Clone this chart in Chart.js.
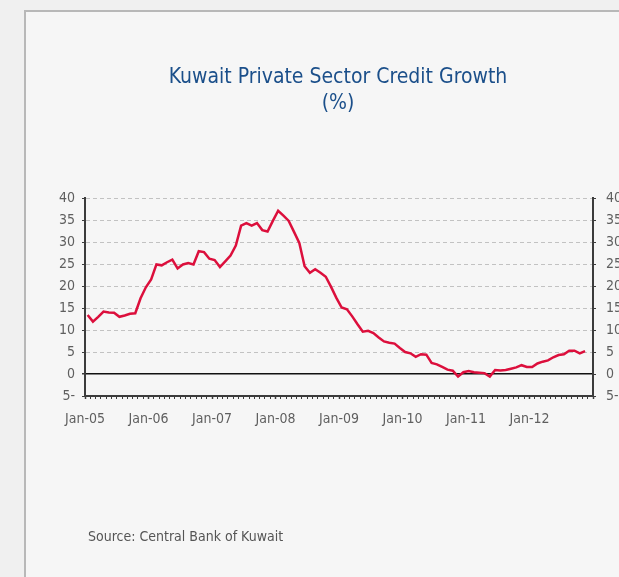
<!DOCTYPE html>
<html lang="en">
<head>
    <meta charset="UTF-8">
    <title>Kuwait Private Sector Credit Growth</title>
    <script src="https://cdn.jsdelivr.net/npm/chart.js"></script>
    <style>
        html, body {
            margin: 0;
            padding: 0;
            width: 619px;
            height: 577px;
            overflow: hidden;
            background: #f0f0f0;
        }
        .panel {
            position: absolute;
            left: 24px;
            top: 10px;
            width: 700px;
            height: 700px;
            background: #f6f6f6;
            border-left: 2px solid #b8b8b8;
            border-top: 2px solid #b8b8b8;
        }
        #chart {
            position: absolute;
            left: 0;
            top: 0;
        }
        .source {
            position: absolute;
            left: 88px;
            top: 528px;
            font-family: 'Liberation Sans Narrow', 'DejaVu Sans Condensed', 'Open Sans', sans-serif;
            font-size: 14px;
            color: #555555;
        }
    </style>
</head>
<body>
    <div class="panel"></div>
    <canvas id="chart" width="676" height="577"></canvas>
    <div class="source">Source: Central Bank of Kuwait</div>

    <script>
        // Monthly private sector credit growth, Jan-05 .. Nov-12 (%)
        const creditGrowth = [
            13.4, 11.9, 13.0, 14.2, 14.0, 13.9, 13.0, 13.3, 13.7, 13.8, 17.2, 19.7,
            21.5, 24.9, 24.7, 25.4, 26.0, 24.0, 24.9, 25.2, 24.9, 27.9, 27.7, 26.2,
            25.9, 24.3, 25.6, 26.9, 29.2, 33.7, 34.3, 33.7, 34.3, 32.7, 32.4, 34.8,
            37.1, 36.0, 34.8, 32.3, 29.8, 24.5, 23.0, 23.8, 23.0, 22.1, 19.8, 17.3,
            15.1, 14.7, 13.1, 11.3, 9.6, 9.8, 9.3, 8.3, 7.4, 7.1, 6.9, 5.9,
            5.0, 4.7, 3.9, 4.5, 4.4, 2.5, 2.2, 1.6, 1.0, 0.75, -0.6, 0.4,
            0.7, 0.4, 0.3, 0.2, -0.6, 0.9, 0.8, 0.9, 1.2, 1.5, 2.0, 1.6,
            1.6, 2.4, 2.8, 3.1, 3.8, 4.3, 4.5, 5.3, 5.3, 4.7, 5.2
        ];
        const yearLabels = ['Jan-05', 'Jan-06', 'Jan-07', 'Jan-08', 'Jan-09', 'Jan-10', 'Jan-11', 'Jan-12'];
        const monthsShown = 96;

        const labelFont = "'Liberation Sans Narrow', 'DejaVu Sans Condensed', 'Open Sans', sans-serif";
        const tickColor = '#5f5f5f';
        const axisColor = '#3c3c3c';

        // each month sits in the middle of its slot
        const points = creditGrowth.map((v, i) => ({ x: i + 0.5, y: v }));

        new Chart(document.getElementById('chart').getContext('2d'), {
            type: 'line',
            data: {
                datasets: [{
                    label: 'Credit growth',
                    data: points,
                    borderColor: '#dc0f3c',
                    borderWidth: 2.5,
                    pointRadius: 0,
                    tension: 0,
                    fill: false
                }]
            },
            options: {
                responsive: false,
                animation: false,
                layout: { padding: { top: 64, left: 0, right: 0, bottom: 0 } },
                plugins: {
                    legend: { display: false },
                    tooltip: { enabled: false },
                    title: {
                        display: true,
                        text: ['Kuwait Private Sector Credit Growth', '(%)'],
                        color: '#1b4f8a',
                        font: { family: labelFont, size: 21, weight: 'normal', lineHeight: 1.25 },
                        padding: { top: 0, bottom: 81.5 }
                    }
                },
                scales: {
                    x: {
                        type: 'linear',
                        min: 0,
                        max: monthsShown,
                        afterFit: s => { s.height = 577 - 396; },
                        grid: {
                            drawOnChartArea: false,
                            drawTicks: true,
                            tickLength: 3,
                            tickColor: axisColor,
                            tickWidth: c => (c.tick && c.tick.value % 12 === 0) ? 1.5 : 1
                        },
                        border: { display: true, color: axisColor, width: 2 },
                        ticks: {
                            stepSize: 1,
                            autoSkip: false,
                            maxRotation: 0,
                            minRotation: 0,
                            padding: 12,
                            color: tickColor,
                            font: { family: labelFont, size: 14 },
                            callback: v => (v % 12 === 0 && v / 12 < yearLabels.length) ? yearLabels[v / 12] : ''
                        }
                    },
                    y: {
                        position: 'left',
                        min: -5,
                        max: 40,
                        afterFit: s => { s.width = 85; },
                        grid: {
                            color: c => (c.tick && c.tick.value === 0) ? '#111111' : '#c2c2c2',
                            lineWidth: c => (c.tick && c.tick.value === 0) ? 1.5 : 1,
                            tickLength: 3,
                            tickColor: axisColor
                        },
                        border: {
                            display: true,
                            color: axisColor,
                            width: 2,
                            dash: c => (c.tick && c.tick.value !== 0) ? [4, 3] : []
                        },
                        ticks: {
                            stepSize: 5,
                            padding: 7,
                            color: tickColor,
                            font: { family: labelFont, size: 14 },
                            callback: v => v < 0 ? Math.abs(v) + '-' : String(v)
                        }
                    },
                    y2: {
                        position: 'right',
                        min: -5,
                        max: 40,
                        afterFit: s => { s.width = 676 - 593; },
                        grid: {
                            drawOnChartArea: false,
                            tickLength: 3,
                            tickColor: axisColor
                        },
                        border: { display: true, color: axisColor, width: 2 },
                        ticks: {
                            stepSize: 5,
                            padding: 10,
                            color: tickColor,
                            font: { family: labelFont, size: 14 },
                            callback: v => v < 0 ? Math.abs(v) + '-' : String(v)
                        }
                    }
                }
            }
        });
    </script>
</body>
</html>
